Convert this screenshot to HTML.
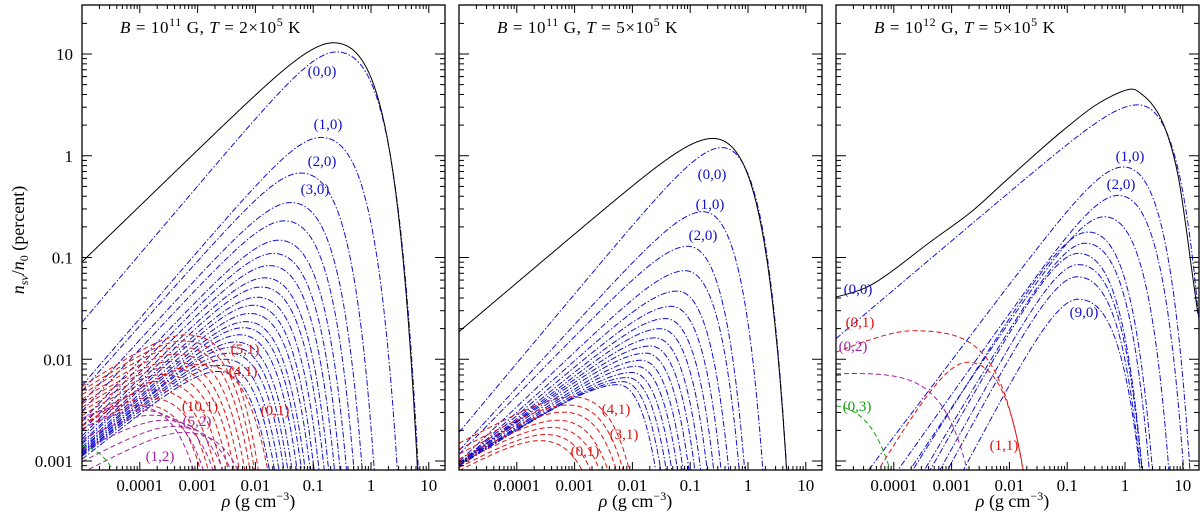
<!DOCTYPE html>
<html><head><meta charset="utf-8"><style>
html,body{margin:0;padding:0;background:#fff;width:1200px;height:515px;overflow:hidden}
svg{display:block}
svg text{font-family:"Liberation Serif",serif}
</style></head><body>
<svg id="fig" width="1200" height="515" viewBox="0 0 1200 515" xmlns="http://www.w3.org/2000/svg"></svg>
<script>
// ---------- data (log10 rho, log10 n) ----------
// Panel 1: B=1e11, T=2e5
const p1TotalPeak=[-0.65,1.11]; const p1TotalSlopes=[0.55,0.40];
const p1BluePeakX=[-0.60,-0.87,-1.22,-1.39,-1.50,-1.60,-1.69,-1.76,-1.84,-1.90,-1.97,-2.04,-2.09,-2.16,-2.21,-2.27,-2.34,-2.40,-2.45,-2.52,-2.58,-2.65];
const p1BluePeakY=[1.02,0.18,-0.17,-0.46,-0.64,-0.83,-0.96,-1.08,-1.20,-1.29,-1.39,-1.47,-1.55,-1.63,-1.69,-1.76,-1.83,-1.88,-1.94,-2.00,-2.06,-2.12];
const p1BlueSlopeL=[0.67,0.66,0.64,0.62,0.61,0.60,0.59,0.58,0.57,0.56,0.55,0.54,0.53,0.52,0.51,0.50,0.49,0.48,0.47,0.46,0.45,0.45];
const p1BlueSlopeR=[0.43,0.44,0.45,0.45,0.46,0.46,0.46,0.47,0.47,0.47,0.47,0.47,0.47,0.47,0.47,0.47,0.47,0.47,0.47,0.47,0.47,0.47];
const p1RedPeakX=[-3.20,-3.25,-3.31,-3.38,-3.45,-3.52,-3.60,-3.68,-3.76,-3.85,-3.95,-2.95];
const p1RedPeakY=[-1.76,-1.82,-1.88,-1.95,-2.02,-2.08,-2.15,-2.22,-2.30,-2.38,-2.45,-2.05];
const p1RedSlopes=[0.37,0.22];
const p1MagPeakX=[-4.2,-4.0,-3.8,-3.6,-3.42,-3.25];
const p1MagPeakY=[-2.45,-2.50,-2.55,-2.60,-2.66,-2.72];
const p1MagSlopes=[0.3,0.15];
const p1GreenPeak=[-5.1,-2.85]; const p1GreenSlopes=[0.3,0.3];
// Panel 2: B=1e11, T=5e5
const p2TotalPeak=[-0.61,0.17]; const p2TotalSlopes=[0.48,0.50];
const p2BluePeakX=[-0.45,-0.78,-1.04,-1.09,-1.23,-1.33,-1.43,-1.52,-1.61,-1.69,-1.77,-1.85,-1.93,-2.01,-2.09,-2.17,-2.25];
const p2BluePeakY=[0.08,-0.55,-0.89,-1.13,-1.33,-1.48,-1.60,-1.70,-1.79,-1.87,-1.94,-2.01,-2.07,-2.13,-2.18,-2.22,-2.25];
const p2BlueSlopeL=[0.68,0.62,0.58,0.54,0.51,0.48,0.46,0.44,0.42,0.40,0.39,0.38,0.37,0.36,0.35,0.34,0.33];
const p2BlueSlopeR=[0.76,0.78,0.80,0.82,0.84,0.86,0.87,0.88,0.89,0.90,0.92,0.93,0.94,0.95,0.96,0.97,0.97];
const p2RedPeakX=[-3.05,-3.12,-3.20,-3.30,-3.40,-3.50,-3.60];
const p2RedPeakY=[-2.37,-2.45,-2.52,-2.60,-2.67,-2.74,-2.80];
const p2RedSlopes=[0.3,0.25];
// Panel 3: B=1e12, T=5e5
const p3TotalX=[-5.0,-4.5,-4.07,-3.4,-2.68,-2.11,-1.5,-1.07,-0.5,0.05,0.3,0.55,0.75,0.92,1.05,1.15,1.26];
const p3TotalY=[-1.39,-1.30,-1.15,-0.86,-0.56,-0.27,0.04,0.25,0.50,0.65,0.60,0.44,0.18,-0.20,-0.68,-1.10,-1.55];
const p3BluePeakX=[0.22,-0.03,-0.12,-0.36,-0.64,-0.69,-0.81,-0.81,-0.83,-0.81];
const p3BluePeakY=[0.50,-0.11,-0.39,-0.60,-0.75,-0.86,-0.96,-1.07,-1.19,-1.41];
const p3BlueSlopeL=[0.48,0.75,0.80,0.85,0.90,0.95,1.00,1.03,1.05,1.08];
const p3BlueSlopeR=[0.61,0.65,0.62,0.60,0.57,0.55,0.53,0.51,0.49,0.47];
const p3RedPeakX=[-3.67,-2.73]; const p3RedPeakY=[-1.72,-2.03];
const p3RedSlopeL=[0.23,0.95]; const p3RedSlopeR=[0.042,0.40];
const p3MagPeak=[-4.7,-2.14]; const p3MagSlopes=[0.05,0.025];
const p3GreenPeak=[-5.2,-2.45]; const p3GreenSlopes=[0.15,0.146];
const yTickVals=[-3,-2,-1,0,1]; const yTickLabels=["0.001","0.01","0.1","1","10"];
const xTickVals=[-4,-3,-2,-1,0,1]; const xTickLabels=["0.0001","0.001","0.01","0.1","1","10"];

// ---------- layout ----------
const NS="http://www.w3.org/2000/svg";
const fig=document.getElementById('fig');
const PL=[82,459,836], PW=363, PT=5, PB=470;
const XMIN=-5.0, XPD=57.8, YREF=54, YPD=101.75;
const XMAX=XMIN+PW/XPD, YMIN=1-(PB-YREF)/YPD;
const xs=(i,lx)=>PL[i]+(lx-XMIN)*XPD;
const ys=ly=>YREF+(1-ly)*YPD;
function mk(tag,attrs,parent){const e=document.createElementNS(NS,tag);for(const k in attrs)e.setAttribute(k,attrs[k]);(parent||fig).appendChild(e);return e;}
function shape(u,sL,sR){const s=u<0?sL:sR;return s*(u-(Math.pow(10,u)-1)/Math.LN10);}
function curvePts(i,px,py,sL,sR){const pts=[];for(let lx=XMIN;lx<=XMAX+1e-9;lx+=0.01){const ly=Math.max(py+shape(lx-px,sL,sR),YMIN-0.03);pts.push(xs(i,lx).toFixed(1)+','+ys(ly).toFixed(1));}return pts.join(' ');}
const styles={blue:{stroke:'#1010d0',dash:'6,2,1.5,2'},red:{stroke:'#e01010',dash:'5,3'},mag:{stroke:'#a020a0',dash:'5,3'},green:{stroke:'#10a010',dash:'5,3'},black:{stroke:'#000',dash:'none'}};
function drawCurve(g,i,px,py,sL,sR,st,name){
  const e=mk('polyline',{points:curvePts(i,px,py,sL,sR),fill:'none',stroke:styles[st].stroke,'stroke-width':1,'stroke-dasharray':styles[st].dash},g);
  
  
}
function catmull(i,X,Y){const P=X.map((x,k)=>[xs(i,x),ys(Y[k])]);let d='M'+P[0][0]+','+P[0][1];for(let k=0;k<P.length-1;k++){const p0=P[Math.max(k-1,0)],p1=P[k],p2=P[k+1],p3=P[Math.min(k+2,P.length-1)];d+=' C'+(p1[0]+(p2[0]-p0[0])/6)+','+(p1[1]+(p2[1]-p0[1])/6)+' '+(p2[0]-(p3[0]-p1[0])/6)+','+(p2[1]-(p3[1]-p1[1])/6)+' '+p2[0]+','+p2[1];}return d;}

const defs=mk('defs',{});
for(let i=0;i<3;i++){const cp=mk('clipPath',{id:'clip'+i},defs);mk('rect',{x:PL[i],y:PT,width:PW,height:PB-PT},cp);}

const titles=[['10','11','2×10','5'],['10','11','5×10','5'],['10','12','5×10','5']];
for(let i=0;i<3;i++){
  const g=mk('g',{'clip-path':'url(#clip'+i+')'});
  
  
  if(i===0){
    p1BluePeakX.forEach((x,k)=>drawCurve(g,0,x,p1BluePeakY[k],p1BlueSlopeL[k],p1BlueSlopeR[k],'blue','blue-curve-'+k+'-0'));
    p1RedPeakX.forEach((x,k)=>drawCurve(g,0,x,p1RedPeakY[k],p1RedSlopes[0],p1RedSlopes[1],'red','red-curve-'+k+'-1'));
    p1MagPeakX.forEach((x,k)=>drawCurve(g,0,x,p1MagPeakY[k],p1MagSlopes[0],p1MagSlopes[1],'mag','magenta-curve-'+k+'-2'));
    drawCurve(g,0,p1GreenPeak[0],p1GreenPeak[1],p1GreenSlopes[0],p1GreenSlopes[1],'green','green-curve-0-3');
    drawCurve(g,0,p1TotalPeak[0],p1TotalPeak[1],p1TotalSlopes[0],p1TotalSlopes[1],'black','total-curve');
  } else if(i===1){
    p2BluePeakX.forEach((x,k)=>drawCurve(g,1,x,p2BluePeakY[k],p2BlueSlopeL[k],p2BlueSlopeR[k],'blue','blue-curve-'+k+'-0'));
    p2RedPeakX.forEach((x,k)=>drawCurve(g,1,x,p2RedPeakY[k],p2RedSlopes[0],p2RedSlopes[1],'red','red-curve-'+k+'-1'));
    drawCurve(g,1,p2TotalPeak[0],p2TotalPeak[1],p2TotalSlopes[0],p2TotalSlopes[1],'black','total-curve');
  } else {
    p3BluePeakX.forEach((x,k)=>drawCurve(g,2,x,p3BluePeakY[k],p3BlueSlopeL[k],p3BlueSlopeR[k],'blue','blue-curve-'+k+'-0'));
    p3RedPeakX.forEach((x,k)=>drawCurve(g,2,x,p3RedPeakY[k],p3RedSlopeL[k],p3RedSlopeR[k],'red','red-curve-'+k+'-1'));
    drawCurve(g,2,p3MagPeak[0],p3MagPeak[1],p3MagSlopes[0],p3MagSlopes[1],'mag','magenta-curve-0-2');
    drawCurve(g,2,p3GreenPeak[0],p3GreenPeak[1],p3GreenSlopes[0],p3GreenSlopes[1],'green','green-curve-0-3');
    const t=mk('path',{d:catmull(2,p3TotalX,p3TotalY),fill:'none',stroke:'#000','stroke-width':1},g);
    
    
  }
  const fr=mk('rect',{x:PL[i],y:PT,width:PW,height:PB-PT,fill:'none',stroke:'#000','stroke-width':1.3});
  
  
  const tg=mk('g',{stroke:'#000','stroke-width':1});
  
  
  for(let d=-5;d<=1;d++)for(let m=1;m<=9;m++){const lx=d+Math.log10(m);const x=xs(i,lx);if(x<PL[i]+1||x>PL[i]+PW-1)continue;const L=m===1?8:4;
    mk('line',{x1:x,y1:PB,x2:x,y2:PB-L},tg);mk('line',{x1:x,y1:PT,x2:x,y2:PT+L},tg);}
  for(let d=-4;d<=1;d++)for(let m=1;m<=9;m++){const ly=d+Math.log10(m);const y=ys(ly);if(y<PT+1||y>PB-1)continue;const L=m===1?10:5;
    mk('line',{x1:PL[i],y1:y,x2:PL[i]+L,y2:y},tg);mk('line',{x1:PL[i]+PW,y1:y,x2:PL[i]+PW-L,y2:y},tg);}
  xTickVals.forEach((v,k)=>{const t=mk('text',{x:xs(i,v),y:491,'font-size':17,'text-anchor':'middle'});t.textContent=xTickLabels[k];
    
    });
  const xl=mk('text',{x:PL[i]+PW/2-5,y:507,'font-size':18,'text-anchor':'middle'});
  xl.innerHTML='<tspan font-style="italic">ρ</tspan>  (g  cm<tspan dy="-7" font-size="12">−3</tspan><tspan dy="7">)</tspan>';
  
  
  const tt=titles[i];
  const ti=mk('text',{x:PL[i]+38,y:33,'font-size':17,'letter-spacing':'0.6'});
  ti.innerHTML='<tspan font-style="italic">B</tspan> = 10<tspan dy="-7" font-size="12">'+tt[1]+'</tspan><tspan dy="7">  G,  </tspan><tspan font-style="italic">T</tspan> = '+tt[2]+'<tspan dy="-7" font-size="12">'+tt[3]+'</tspan><tspan dy="7">  K</tspan>';
  
  
}
yTickVals.forEach((v,k)=>{const t=mk('text',{x:73,y:ys(v)+6,'font-size':17,'text-anchor':'end'});t.textContent=yTickLabels[k];
  
  });
const yl=mk('text',{x:0,y:0,'font-size':18,'text-anchor':'middle',transform:'translate(24,240) rotate(-90)'});
yl.innerHTML='<tspan font-style="italic">n</tspan><tspan dy="4" font-size="12" font-style="italic">sν</tspan><tspan dy="-4">/</tspan><tspan font-style="italic">n</tspan><tspan dy="4" font-size="12">0</tspan><tspan dy="-4">  (percent)</tspan>';



const labels=[
 [322,76,'(0,0)','#1010d0'],[328,129,'(1,0)','#1010d0'],[322,166,'(2,0)','#1010d0'],[315,194,'(3,0)','#1010d0'],
 [245,354,'(5,1)','#e01010'],[243,376,'(4,1)','#e01010'],[200,411,'(10,1)','#e01010'],[275,415,'(0,1)','#e01010'],
 [197,426,'(5,2)','#a020a0'],[160,461,'(1,2)','#a020a0'],
 [712,179,'(0,0)','#1010d0'],[710,209,'(1,0)','#1010d0'],[703,240,'(2,0)','#1010d0'],
 [616,414,'(4,1)','#e01010'],[624,439,'(3,1)','#e01010'],[585,456,'(0,1)','#e01010'],
 [858,294,'(0,0)','#1010d0'],[860,327,'(0,1)','#e01010'],[853,351,'(0,2)','#a020a0'],[857,411,'(0,3)','#10a010'],
 [1130,161,'(1,0)','#1010d0'],[1121,189,'(2,0)','#1010d0'],[1084,317,'(9,0)','#1010d0'],[1004,450,'(1,1)','#e01010']];
labels.forEach(l=>{const t=mk('text',{x:l[0],y:l[1],'font-size':15,'text-anchor':'middle',fill:l[3]});t.textContent=l[2];
  
  });
</script>
</body></html>
